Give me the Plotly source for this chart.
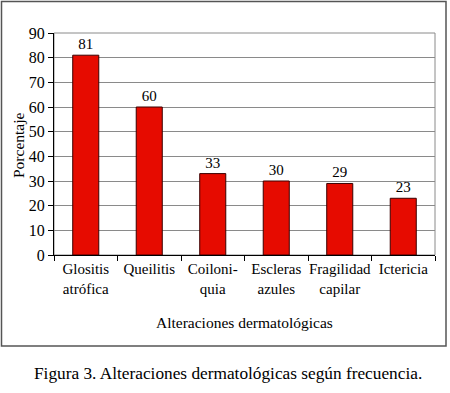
import plotly.graph_objects as go

categories = ["Glositis<br>atrófica", "Queilitis", "Coiloni-<br>quia", "Escleras<br>azules", "Fragilidad<br>capilar", "Ictericia"]
values = [81, 60, 33, 30, 29, 23]
y_ticks = [0, 10, 20, 30, 40, 50, 60, 70, 80, 90]

FONT = "'Liberation Serif', 'Times New Roman', Times, 'DejaVu Serif', serif"

fig = go.Figure()
fig.add_trace(go.Bar(
    x=categories, y=values,
    marker=dict(color="#e60b00", line=dict(color="#3a0000", width=1)),
    text=[str(v) for v in values], textposition="outside",
    textfont=dict(family=FONT, size=15, color="black"),
    cliponaxis=False, hoverinfo="skip",
))

W, H = 450, 393
L, R, T, B = 54, 15, 33, 138
pw, ph = W - L - R, H - T - B

def px(x):
    return (x - L) / pw

def py(y):
    return (T + ph - y) / ph

fig.update_layout(
    width=W, height=H,
    margin=dict(l=L, r=R, t=T, b=B),
    paper_bgcolor="white", plot_bgcolor="white",
    bargap=0.59,
    showlegend=False,
    font=dict(family=FONT, size=15, color="black"),
    xaxis=dict(
        tickson="boundaries", ticks="outside", ticklen=5, tickcolor="black",
        showline=True, linecolor="black", linewidth=1, tickangle=0,
        showgrid=False, tickfont=dict(family=FONT, size=15, color="black"),
    ),
    yaxis=dict(
        range=[0, 90], tickvals=y_ticks, ticks="outside", ticklen=5, tickcolor="black",
        showline=True, linecolor="black", linewidth=1,
        showgrid=True, gridcolor="#8a8a8a", gridwidth=1,
        tickfont=dict(family=FONT, size=16, color="black"), zeroline=False,
    ),
    shapes=[
        dict(type="rect", xref="paper", yref="paper", x0=0, x1=1, y0=0, y1=1,
             line=dict(color="#8a8a8a", width=1), layer="below"),
        dict(type="rect", xref="paper", yref="paper",
             x0=px(1.5), x1=px(446), y0=py(346), y1=py(1.5),
             line=dict(color="#555555", width=1.5)),
    ],
    annotations=[
        dict(text="Porcentaje", xref="paper", yref="paper", x=px(18), y=py(145),
             textangle=-90, showarrow=False, font=dict(family=FONT, size=15.5, color="black"),
             xanchor="center", yanchor="middle"),
        dict(text="Alteraciones dermatológicas", xref="paper", yref="paper",
             x=px(244), y=py(322), showarrow=False,
             font=dict(family=FONT, size=15.5, color="black"), xanchor="center", yanchor="middle"),
        dict(text="Figura 3. Alteraciones dermatológicas según frecuencia.", xref="paper", yref="paper",
             x=px(228), y=py(373), showarrow=False,
             font=dict(family=FONT, size=17.3, color="black"), xanchor="center", yanchor="middle"),
    ],
)

fig.write_html("out.html", config={"displayModeBar": False},
               post_script="document.body.style.margin='0';document.body.style.padding='0';")
